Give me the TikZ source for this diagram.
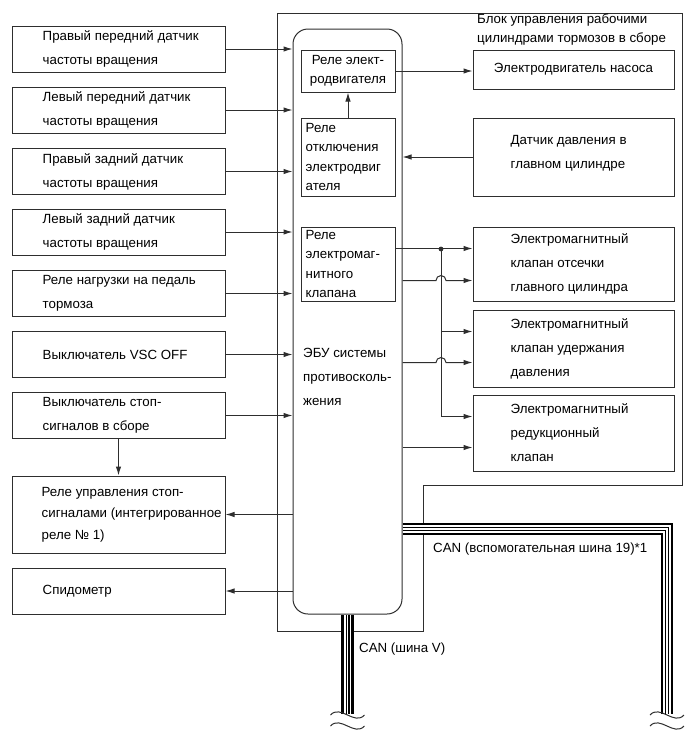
\documentclass[tikz,border=0pt]{standalone}
\usepackage{fontspec}
\setmainfont{Liberation Sans}
\usetikzlibrary{positioning,arrows.meta}
\definecolor{linegray}{HTML}{2E2E2E}

% four-layer bus line: thick outer rails, thin inner pair
\newcommand{\canbus}[1]{%
  \draw[line width=12.5pt,black] #1;
  \draw[line width=7.5pt,white] #1;
  \draw[line width=4pt,black] #1;
  \draw[line width=1.4pt,white] #1;}

\begin{document}
\begin{tikzpicture}[x=1pt,y=-1pt,line join=miter,
    box/.style={draw=linegray, line width=1pt, rectangle, inner sep=0pt},
    lbox/.style={box, minimum width=213pt, minimum height=46pt},
    rbox/.style={box, minimum width=201pt},
    ibox/.style={box, minimum width=94pt},
    wide/.style={align=left, inner sep=0pt, font=\fontsize{13.3}{24}\selectfont},
    tight/.style={align=left, inner sep=0pt, font=\fontsize{13.3}{19.5}\selectfont},
    wire/.style={draw=linegray, line width=1pt},
    arr/.style={wire, -{Latex[length=9pt,width=5.5pt]}}]
  \useasboundingbox (0,0) rectangle (690,756);

  % assembly frame
  \draw[wire] (277,13) -- (682,13) -- (682,485) -- (423,485) -- (423,631) -- (277,631) -- cycle;
  \node[tight, anchor=west] (title) at (477,29.5) {Блок управления рабочими\\цилиндрами тормозов в сборе};

  % ECU
  \node[box, rounded corners=15pt, minimum width=109pt, minimum height=585pt] (ecu) at (347.5,321.5) {};
  \node[wide, anchor=west] (ecutxt) at (303,377) {ЭБУ системы\\противосколь-\\жения};

  % CAN lines
  \coordinate (busAend) at (347.5,714);
  \coordinate (busBend) at (667,714);
  \coordinate (busBtap) at (402,529);
  \canbus{(ecu.south) -- (ecu.south |- busAend)}
  \canbus{(ecu.east |- busBtap) -- (busBend |- busBtap) -- (busBend)}
  \foreach \cx in {347.5,667} \foreach \cy in {715,726}
    \draw[wire] (\cx-17,\cy) .. controls (\cx-7,\cy-11) and (\cx+7,\cy+11) .. (\cx+17,\cy);
  \node[anchor=west, inner sep=0pt, font=\fontsize{13.3}{15}\selectfont] (canv) at (359,649) {CAN (шина V)};
  \node[anchor=west, inner sep=0pt, font=\fontsize{13.3}{15}\selectfont] (can19) at (433,549) {CAN (вспомогательная шина 19)*1};

  % inputs and outputs on the left
  \node[lbox] (rfspeed) at (118.5,49) {};
  \node[wide, right=31pt of rfspeed.west] (rfspeedtxt) {Правый передний датчик\\частоты вращения};
  \node[lbox] (lfspeed) at (118.5,110) {};
  \node[wide, right=31pt of lfspeed.west] (lfspeedtxt) {Левый передний датчик\\частоты вращения};
  \node[lbox] (rrspeed) at (118.5,171.5) {};
  \node[wide, right=31pt of rrspeed.west] (rrspeedtxt) {Правый задний датчик\\частоты вращения};
  \node[lbox] (lrspeed) at (118.5,232) {};
  \node[wide, right=31pt of lrspeed.west] (lrspeedtxt) {Левый задний датчик\\частоты вращения};
  \node[lbox] (pedal) at (118.5,293.5) {};
  \node[wide, right=31pt of pedal.west] (pedaltxt) {Реле нагрузки на педаль\\тормоза};
  \node[lbox] (vscoff) at (118.5,354.5) {};
  \node[wide, right=31pt of vscoff.west] (vscofftxt) {Выключатель VSC OFF};
  \node[lbox] (stopsw) at (118.5,415.5) {};
  \node[wide, right=31pt of stopsw.west] (stopswtxt) {Выключатель стоп-\\сигналов в сборе};
  \node[lbox, minimum height=77pt] (stoprelay) at (118.5,514.5) {};
  \node[wide, font=\fontsize{13.3}{21.5}\selectfont, right=30pt of stoprelay.west] (stoprelaytxt) {Реле управления стоп-\\сигналами (интегрированное\\реле № 1)};
  \node[lbox] (speedo) at (118.5,591) {};
  \node[wide, right=31pt of speedo.west] (speedotxt) {Спидометр};

  \foreach \s in {rfspeed,lfspeed,rrspeed,lrspeed,pedal,vscoff,stopsw}
    \draw[arr] (\s.east) -- (\s.east -| ecu.west);
  \draw[arr] (stopsw.south) -- (stoprelay.north);
  \draw[arr] (stoprelay.east -| ecu.west) -- (stoprelay.east);
  \draw[arr] (speedo.east -| ecu.west) -- (speedo.east);

  % relays inside the ECU
  \node[ibox, minimum height=42pt, tight, align=center] (motorrelay) at (348,71) {Реле элект-\\родвигателя};
  \node[ibox, minimum height=78pt] (cutrelay) at (348,157) {};
  \node[tight, right=5pt of cutrelay.west] (cutrelaytxt) {Реле\\отключения\\электродвиг\\ателя};
  \node[ibox, minimum height=74pt] (solrelay) at (348,264) {};
  \node[tight, right=5pt of solrelay.west] (solrelaytxt) {Реле\\электромаг-\\нитного\\клапана};

  % units on the right
  \node[rbox, minimum height=39pt, wide, align=center] (pump) at (573.5,69.5) {Электродвигатель насоса};
  \node[rbox, minimum height=78pt] (mcsensor) at (573.5,157) {};
  \node[wide, right=38pt of mcsensor.west, yshift=4pt] (mcsensortxt) {Датчик давления в\\главном цилиндре};
  \node[rbox, minimum height=74pt] (cutvalve) at (573.5,264) {};
  \node[wide, right=38pt of cutvalve.west] (cutvalvetxt) {Электромагнитный\\клапан отсечки\\главного цилиндра};
  \node[rbox, minimum height=77pt] (holdvalve) at (573.5,348.5) {};
  \node[wide, right=38pt of holdvalve.west] (holdvalvetxt) {Электромагнитный\\клапан удержания\\давления};
  \node[rbox, minimum height=76pt] (redvalve) at (573.5,433) {};
  \node[wide, right=38pt of redvalve.west] (redvalvetxt) {Электромагнитный\\редукционный\\клапан};

  \draw[arr] (cutrelay.north) -- (motorrelay.south);
  \draw[arr] (motorrelay.east) -- (motorrelay.east -| pump.west);
  \draw[arr] (mcsensor.west) -- (mcsensor.west -| ecu.east);

  % valve feeds
  \coordinate (split) at (441,249);
  \coordinate (cutin) at ([yshift=-22pt]cutvalve.north west);
  \coordinate (holdin) at ([yshift=-22pt]holdvalve.north west);
  \coordinate (redin) at ([yshift=-22pt]redvalve.north west);
  \coordinate (cutin2) at ([yshift=-54pt]cutvalve.north west);
  \coordinate (holdin2) at ([yshift=-53pt]holdvalve.north west);
  \coordinate (redin2) at ([yshift=-53pt]redvalve.north west);
  \coordinate (hopcut) at (split |- cutin2);
  \coordinate (hophold) at (split |- holdin2);

  \draw[arr] (cutin -| solrelay.east) -- (cutin);
  \draw[arr] (split) |- (redin);
  \draw[arr] (split |- holdin) -- (holdin);
  \fill[linegray] (split) circle (2.4pt);
  \draw[arr] (cutin2 -| ecu.east) -- ([xshift=-5pt]hopcut) arc[start angle=180, end angle=0, radius=5pt] -- (cutin2);
  \draw[arr] (holdin2 -| ecu.east) -- ([xshift=-5pt]hophold) arc[start angle=180, end angle=0, radius=5pt] -- (holdin2);
  \draw[arr] (redin2 -| ecu.east) -- (redin2);
\end{tikzpicture}
\end{document}
